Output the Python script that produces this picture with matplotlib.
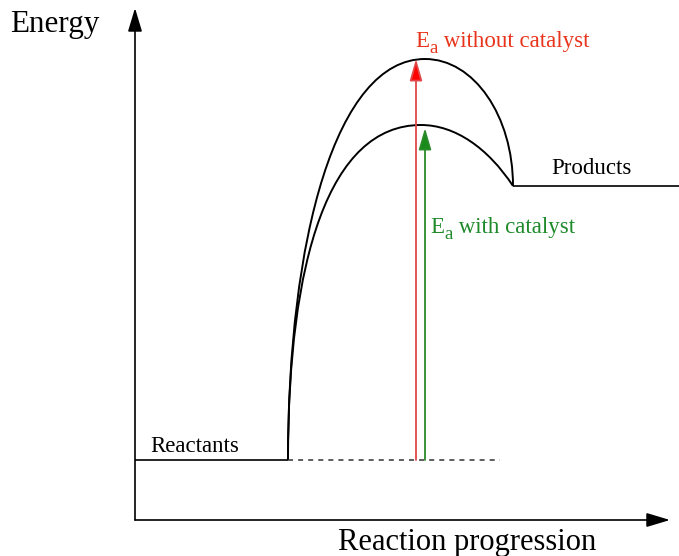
import matplotlib
matplotlib.use("Agg")
import matplotlib.pyplot as plt
from matplotlib.path import Path
from matplotlib.patches import PathPatch

plt.rcParams['font.family'] = ['Liberation Serif', 'DejaVu Serif']

# ---- data (diagram units: x = reaction progress, y = energy) ----
axis_origin = [135, 36]
axis_x_end = 670
axis_y_end = 548
reactant_x = [135, 288]
reactant_E = 96
dashed_x = [288, 500]
product_x = [513, 679]
product_E = 370
peak_uncat = [425, 497]
peak_cat = [421, 431]
# Bezier control points (left rise: 2 points, right fall: 2 points)
uncat_ctrl = [(288, 317), (336, 497), (474, 497), (513, 440)]
cat_ctrl = [(288, 296), (329, 431), (455, 431), (488, 408)]
arrow_uncat_x = 416
arrow_uncat_top = 497
arrow_cat_x = 425
arrow_cat_top = 428
title_y = "Energy"
title_x = "Reaction progression"
label_react = "Reactants"
label_prod = "Products"
ea_main = "E"
ea_sub = "a"
ea_uncat_rest = " without catalyst"
ea_cat_rest = " with catalyst"

fig = plt.figure(figsize=(6.79, 5.56), dpi=100)
ax = fig.add_axes([0, 0, 1, 1])
ax.set_xlim(0, 679)
ax.set_ylim(0, 556)
ax.axis('off')

# axes arrows
ax_arrow = dict(arrowstyle='-|>,head_length=0.9,head_width=0.27', color='black',
                lw=1.2, shrinkA=0, shrinkB=0, mutation_scale=16)
ax.annotate('', xy=(axis_origin[0], axis_y_end), xytext=(axis_origin[0], axis_origin[1]),
            arrowprops=ax_arrow)
ax.annotate('', xy=(axis_x_end, axis_origin[1]), xytext=(axis_origin[0], axis_origin[1]),
            arrowprops=ax_arrow)

# reactants / products levels
ax.plot(reactant_x, [reactant_E, reactant_E], color='black', lw=1.2, solid_capstyle='butt')
ax.plot(dashed_x, [reactant_E, reactant_E], color='#333333', lw=1.1, dashes=(3.3, 3.3))
ax.plot(product_x, [product_E, product_E], color='black', lw=1.2, solid_capstyle='butt')


def curve(peak, ctrl):
    verts = [(reactant_x[1], reactant_E), ctrl[0], ctrl[1], tuple(peak),
             ctrl[2], ctrl[3], (product_x[0], product_E)]
    codes = [Path.MOVETO] + [Path.CURVE4] * 6
    return PathPatch(Path(verts, codes), facecolor='none', edgecolor='black', lw=1.4)


ax.add_patch(curve(peak_uncat, uncat_ctrl))
ax.add_patch(curve(peak_cat, cat_ctrl))

# activation energy arrows
ax.annotate('', xy=(arrow_uncat_x, arrow_uncat_top), xytext=(arrow_uncat_x, reactant_E),
            arrowprops=dict(arrowstyle='-|>,head_length=1.1,head_width=0.32',
                            fc='#ff0000', ec='#e04848', lw=1.3, shrinkA=0, shrinkB=0,
                            mutation_scale=12))
ax.annotate('', xy=(arrow_cat_x, arrow_cat_top), xytext=(arrow_cat_x, reactant_E),
            arrowprops=dict(arrowstyle='-|>,head_length=1.1,head_width=0.32',
                            fc='#1a8a1a', ec='#2a8a2a', lw=1.3, shrinkA=0, shrinkB=0,
                            mutation_scale=12))

# texts
ax.text(10, 524, title_y, fontsize=22.4, ha='left', va='baseline')
ax.text(338, 6, title_x, fontsize=22, ha='left', va='baseline')
ax.text(150, 104, label_react, fontsize=16.5, ha='left', va='baseline')
ax.text(551, 382, label_prod, fontsize=16.5, ha='left', va='baseline')


def ea_label(x, y, rest, color):
    t = ax.text(x, y, ea_main, fontsize=16.5, ha='left', va='baseline', color=color)
    s = ax.annotate(ea_sub, xy=(1, 0), xycoords=t, xytext=(0.5, -5),
                    textcoords='offset pixels', fontsize=13.5, ha='left', va='bottom',
                    color=color)
    ax.annotate(rest, xy=(1, 0), xycoords=(s, t), xytext=(0, 0),
                textcoords='offset pixels', fontsize=16.5, ha='left', va='bottom',
                color=color)


ea_label(415, 509, ea_uncat_rest, '#e8341c')
ea_label(430, 323, ea_cat_rest, '#1e8a2a')

fig.savefig('out.png', dpi=100)
